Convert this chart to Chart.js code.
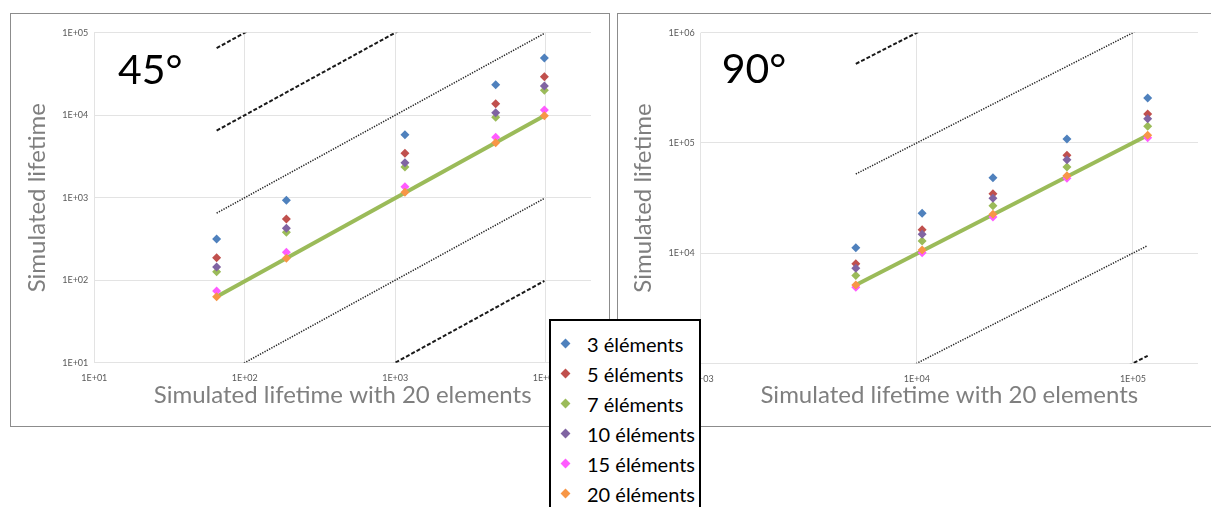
<!DOCTYPE html>
<html>
<head>
<meta charset="utf-8">
<script src="https://cdn.jsdelivr.net/npm/chart.js@4.4.1/dist/chart.umd.min.js"></script>
<style>
    body { margin: 0; width: 1211px; height: 507px; overflow: hidden; background: #fff; position: relative; font-family: Lato, sans-serif; }
    .box { position: absolute; top: 13px; width: 598px; height: 412px; border: 1px solid #8c8c8c; background: #fff; }
    #box45 { left: 10px; }
    #box90 { left: 617px; }
    #legend { position: absolute; left: 549px; top: 319px; width: 148px; height: 210px; border: 2px solid #000; background: #fff; padding-top: 8px; }
    .item { height: 30px; line-height: 30px; font-size: 20px; color: #000; white-space: nowrap; position: relative; padding-left: 36px; }
    .item i { position: absolute; left: 11px; top: 11px; width: 7px; height: 7px; transform: rotate(45deg); }
</style>
</head>
<body>
<div class="box" id="box45"><canvas id="chart45"></canvas></div>
<div class="box" id="box90"><canvas id="chart90"></canvas></div>
<div id="legend"></div>
<script>
// Series
const seriesNames = ['3 éléments', '5 éléments', '7 éléments', '10 éléments', '15 éléments', '20 éléments'];
const seriesColors = ['#4F81BD', '#C0504D', '#9BBB59', '#8064A2', '#FF5BFF', '#F79646'];

// 45° : simulated lifetime with 20 elements (x) and with n elements (y)
const lifetime20_45 = [65, 189, 1160, 4650, 9800];
const el3_45 = [316, 929, 5800, 23450, 49300];
const el5_45 = [187, 552, 3450, 13770, 29300];
const el7_45 = [127, 380, 2355, 9440, 20000];
const el10_45 = [145, 426, 2655, 10720, 22600];
const el15_45 = [74, 218, 1358, 5400, 11560];
const el20_45 = [63, 184, 1162, 4650, 9860];

// 90°
const lifetime20_90 = [5220, 10580, 22500, 49500, 117000];
const el3_90 = [11200, 22950, 48400, 108400, 255000];
const el5_90 = [8020, 16330, 34600, 77100, 182700];
const el7_90 = [6250, 12890, 26960, 60400, 141400];
const el10_90 = [7270, 14820, 31400, 70400, 165800];
const el15_90 = [4900, 10090, 21270, 47700, 111500];
const el20_90 = [5140, 10670, 22500, 50400, 117200];

// Tick labels
const xTicks45 = ['1E+01', '1E+02', '1E+03', '1E+04'];
const yTicks45 = ['1E+01', '1E+02', '1E+03', '1E+04', '1E+05'];
const xTicks90 = ['1E+03', '1E+04', '1E+05'];
const yTicks90 = ['1E+03', '1E+04', '1E+05', '1E+06'];
const xMax45 = 2E+04;
const xMax90 = 2E+05;

// Guide lines y = k * x
const guideFactors = [1000, 100, 10, 0.1, 0.01];
const guideStyles = ['dashed', 'dashed', 'dotted', 'dotted', 'dashed'];

const angleLabel = {
    id: 'angleLabel',
    afterDraw(chart, args, opts) {
        const ctx = chart.ctx;
        ctx.save();
        ctx.font = '41px Lato';
        ctx.fillStyle = '#000';
        ctx.textBaseline = 'alphabetic';
        ctx.fillText(opts.text, opts.x, opts.y);
        ctx.restore();
    }
};

function makeChart(id, xs, ys, xTicks, yTicks, xMax, opt) {
    const datasets = [];
    ys.forEach((vals, i) => {
        datasets.push({
            label: seriesNames[i],
            data: xs.map((x, j) => ({ x: x, y: vals[j] })),
            showLine: false,
            pointStyle: 'rectRot',
            pointRadius: 4.5,
            pointBackgroundColor: seriesColors[i],
            pointBorderColor: seriesColors[i],
            pointBorderWidth: 0,
            order: 10 - i
        });
    });
    // trend line of the 20 elements series
    const last = xs.length - 1;
    datasets.push({
        data: [{ x: xs[0], y: ys[5][0] }, { x: xs[last], y: ys[5][last] }],
        showLine: true,
        borderColor: '#9BBB59',
        borderWidth: 4,
        pointRadius: 0,
        order: 20
    });
    guideFactors.forEach((k, i) => {
        const dashed = guideStyles[i] === 'dashed';
        datasets.push({
            data: [{ x: xs[0], y: k * xs[0] }, { x: xs[last], y: k * xs[last] }],
            showLine: true,
            borderColor: dashed ? '#1a1a1a' : '#262626',
            borderWidth: dashed ? 2 : 1.5,
            borderDash: dashed ? [4, 2] : [1.3, 1.3],
            pointRadius: 0,
            order: 30
        });
    });

    return new Chart(document.getElementById(id), {
        type: 'scatter',
        data: { datasets: datasets },
        plugins: [angleLabel],
        options: {
            responsive: true,
            maintainAspectRatio: false,
            animation: false,
            layout: { padding: { left: 0, top: 18.7, right: 18, bottom: 0 } },
            plugins: {
                legend: { display: false },
                tooltip: { enabled: false },
                angleLabel: opt.label
            },
            scales: {
                x: {
                    type: 'logarithmic',
                    min: Number(xTicks[0]),
                    max: xMax,
                    afterBuildTicks: s => { s.ticks = xTicks.map(t => ({ value: Number(t) })); },
                    afterFit: s => { s.height = opt.xHeight; },
                    grid: { color: '#e3e3e3', drawTicks: false },
                    border: { display: false },
                    ticks: {
                        autoSkip: false, maxRotation: 0, padding: 10,
                        color: '#595959', font: { family: 'Lato', size: 9 },
                        callback: (v, i) => xTicks[i]
                    },
                    title: {
                        display: true, text: 'Simulated lifetime with 20 elements',
                        color: '#7f7f7f', font: { family: 'Lato', size: 24 },
                        padding: { top: 0, bottom: 16.6 }
                    }
                },
                y: {
                    type: 'logarithmic',
                    min: Number(yTicks[0]),
                    max: Number(yTicks[yTicks.length - 1]),
                    afterBuildTicks: s => { s.ticks = yTicks.map(t => ({ value: Number(t) })); },
                    afterFit: s => { s.width = opt.yWidth; },
                    grid: { color: '#e3e3e3', drawTicks: false },
                    border: { display: false },
                    ticks: {
                        autoSkip: false, padding: 6,
                        color: '#595959', font: { family: 'Lato', size: 9 },
                        callback: (v, i) => yTicks[i]
                    },
                    title: {
                        display: true, text: 'Simulated lifetime',
                        color: '#7f7f7f', font: { family: 'Lato', size: 24 },
                        padding: { top: opt.yTitlePad, bottom: 0 }
                    }
                }
            }
        }
    });
}

makeChart('chart45', lifetime20_45,
    [el3_45, el5_45, el7_45, el10_45, el15_45, el20_45],
    xTicks45, yTicks45, xMax45,
    { xHeight: 63.3, yWidth: 83.3, yTitlePad: 11.6, label: { text: '45°', x: 107, y: 69.5 } });

makeChart('chart90', lifetime20_90,
    [el3_90, el5_90, el7_90, el10_90, el15_90, el20_90],
    xTicks90, yTicks90, xMax90,
    { xHeight: 62.7, yWidth: 82.7, yTitlePad: 10.6, label: { text: '90°', x: 103.7, y: 68.7 } });

// Legend
document.getElementById('legend').innerHTML = seriesNames.map((name, i) =>
    `<div class="item"><i style="background:${seriesColors[i]}"></i>${name}</div>`
).join('');
</script>
</body>
</html>
